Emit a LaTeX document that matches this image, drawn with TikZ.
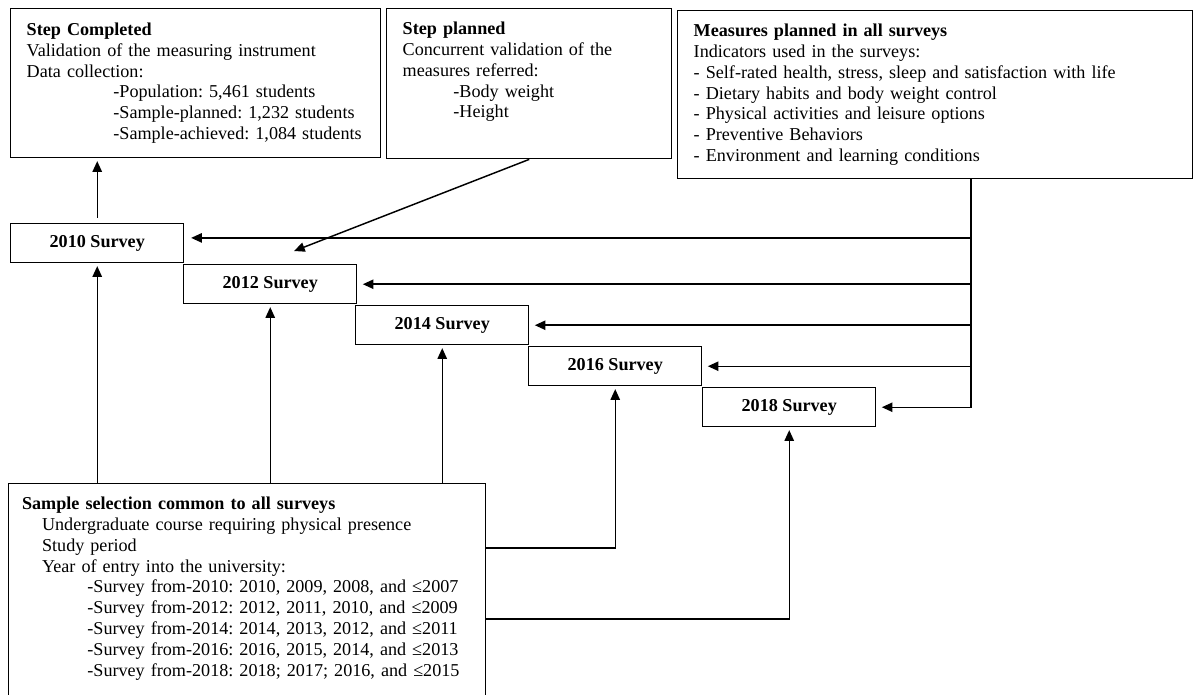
\documentclass[tikz,border=0pt]{standalone}
\usepackage{fontspec}
\setmainfont{Liberation Serif}
\usetikzlibrary{arrows.meta}
\frenchspacing
\tikzset{
  infobox/.style={draw, line width=1.1pt, anchor=north west, align=left, inner xsep=12pt, inner ysep=10pt, font=\fontsize{13.6}{15.6}\selectfont},
  survey/.style={draw, line width=1.1pt, anchor=north west, minimum width=129.75pt, minimum height=29.25pt, inner sep=0pt, font=\fontsize{13.6}{15.6}\selectfont\bfseries},
  link/.style={line width=1.1pt, -{Triangle[length=8pt,width=7pt]}},
}
\begin{document}
\begin{tikzpicture}[x=0.75pt, y=-0.75pt]
\useasboundingbox (0,0) rectangle (1196,695);
\node[infobox, text width=253.5pt, minimum height=111.75pt] (done) at (10,8) {\textbf{Step Completed}\\
Validation of the measuring instrument\\
Data collection:\\
\hspace*{65pt}-Population: 5,461 students\\
\hspace*{65pt}-Sample-planned: 1,232 students\\
\hspace*{65pt}-Sample-achieved: 1,084 students};
\node[infobox, text width=189.75pt, minimum height=111.75pt, text depth=83pt] (planned) at (386,8) {\textbf{Step planned}\\
Concurrent validation of the\\
measures referred:\\
\hspace*{38pt}-Body weight\\
\hspace*{38pt}-Height};
\node[infobox, text width=362.25pt, minimum height=121.5pt] (measures) at (677,10) {\textbf{Measures planned in all surveys}\\
Indicators used in the surveys:\\
- Self-rated health, stress, sleep and satisfaction with life\\
- Dietary habits and body weight control\\
- Physical activities and leisure options\\
- Preventive Behaviors\\
- Environment and learning conditions};
\node[infobox, inner xsep=10pt, text width=337.75pt, text depth=150pt] (sample) at (8,483) {\textbf{Sample selection common to all surveys}\\
\hspace*{15pt}Undergraduate course requiring physical presence\\
\hspace*{15pt}Study period\\
\hspace*{15pt}Year of entry into the university:\\
\hspace*{49pt}-Survey from-2010: 2010, 2009, 2008, and ≤2007\\
\hspace*{49pt}-Survey from-2012: 2012, 2011, 2010, and ≤2009\\
\hspace*{49pt}-Survey from-2014: 2014, 2013, 2012, and ≤2011\\
\hspace*{49pt}-Survey from-2016: 2016, 2015, 2014, and ≤2013\\
\hspace*{49pt}-Survey from-2018: 2018; 2017; 2016, and ≤2015};
\node[survey] (s2010) at (10,223) {2010 Survey};
\node[survey] (s2012) at (183,264) {2012 Survey};
\node[survey] (s2014) at (355,305) {2014 Survey};
\node[survey] (s2016) at (528,346) {2016 Survey};
\node[survey] (s2018) at (702,387) {2018 Survey};
\coordinate (trunk) at (971,0);
\draw[link, shorten <=4pt, shorten >=2pt] (s2010.north) -- (s2010.north |- done.south);
\draw[link, shorten >=2pt] (planned.south) -- ([xshift=16pt,yshift=9pt]s2012.north);
\draw[link, shorten >=4pt] (measures.south -| trunk) |- (s2018.east);
\draw[link, shorten >=5pt] ([yshift=4pt]s2010.east -| trunk) -- ([yshift=4pt]s2010.east);
\foreach \s in {s2012,s2014,s2016}
  \draw[link, shorten >=4pt] (trunk |- \s.east) -- (\s.east);
\foreach \s in {s2010,s2012,s2014}
  \draw[link, shorten >=2pt] (\s.south |- sample.north) -- (\s.south);
\draw[link, shorten >=2pt] ([yshift=-48.75pt]sample.north east) -| (s2016.south);
\draw[link, shorten >=2pt] ([yshift=-102pt]sample.north east) -| (s2018.south);
\end{tikzpicture}
\end{document}
